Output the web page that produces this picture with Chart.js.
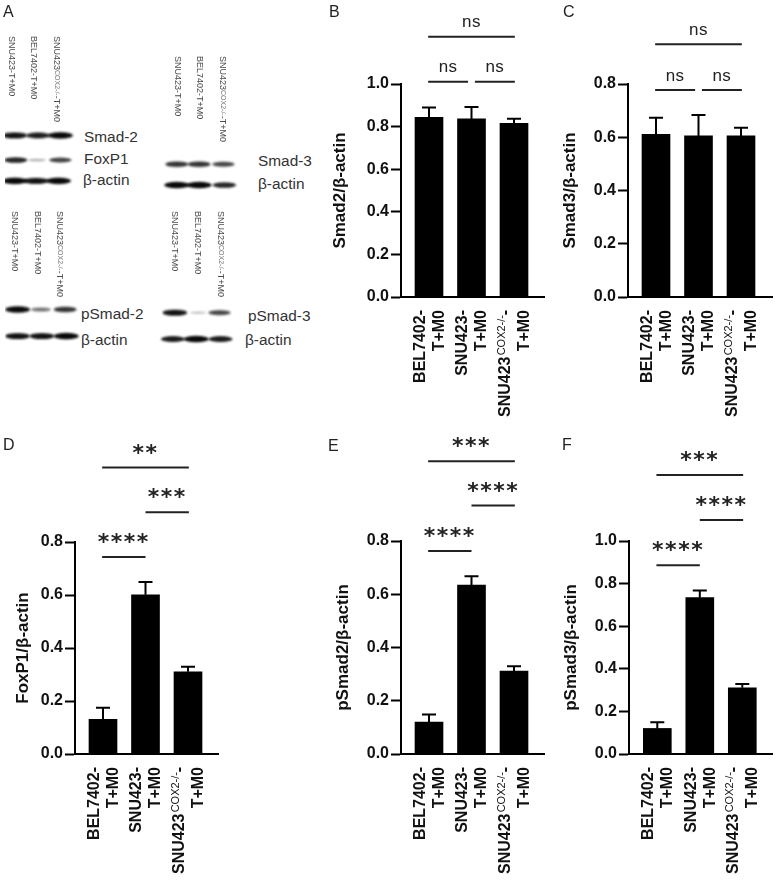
<!DOCTYPE html>
<html>
<head>
<meta charset="utf-8">
<title>Western blots and densitometry</title>
<script src="https://cdn.jsdelivr.net/npm/chart.js@4"></script>
<style>
    html, body { margin: 0; padding: 0; background: #fff; }
    #page { position: relative; width: 780px; height: 881px; overflow: hidden; font-family: "Liberation Sans", Arial, sans-serif; color: #222; }
    #page canvas { position: absolute; }
    .letter { position: absolute; font-size: 16px; line-height: 16px; }
    .blotName { position: absolute; font-size: 15.4px; line-height: 18px; color: #333; transform: translateY(-50%); white-space: nowrap; }
    .lane { position: absolute; writing-mode: vertical-rl; font-size: 9px; line-height: 10px; color: #4a4a4a; white-space: nowrap; transform: translateX(-50%); }
    .lane span { font-size: 7px; color: #777; }
</style>
</head>
<body>
<div id="page"></div>
<script>
// bar values, whisker tops and y ticks
var categories = ['BEL7402-', 'SNU423-', 'SNU423'];
var smad2Means = [0.844, 0.836, 0.815];
var smad2Tops = [0.89, 0.892, 0.837];
var smad3Means = [0.611, 0.605, 0.605];
var smad3Tops = [0.673, 0.684, 0.636];
var foxp1Means = [0.131, 0.601, 0.31];
var foxp1Tops = [0.175, 0.649, 0.329];
var psmad2Means = [0.12, 0.634, 0.311];
var psmad2Tops = [0.148, 0.668, 0.33];
var psmad3Means = [0.12, 0.734, 0.311];
var psmad3Tops = [0.149, 0.768, 0.329];
var ticksTo1 = [0, 0.2, 0.4, 0.6, 0.8, 1.0];
var ticksTo08 = [0, 0.2, 0.4, 0.6, 0.8];

// significance brackets: first bar, last bar, height on the y scale, text
var smad2Marks = [[-0.02, 2.02, 1.222, 'ns'], [-0.02, 0.92, 1.011, 'ns'], [1.08, 2.02, 1.011, 'ns']];
var smad3Marks = [[-0.02, 2.02, 0.949, 'ns'], [-0.02, 0.92, 0.777, 'ns'], [1.08, 2.02, 0.777, 'ns']];
var foxp1Marks = [[-0.02, 2.02, 1.081, '**'], [1, 2.02, 0.912, '***'], [-0.02, 1, 0.743, '****']];
var psmad2Marks = [[-0.02, 2.02, 1.10, '***'], [1, 2.02, 0.933, '****'], [-0.02, 1, 0.762, '****']];
var psmad3Marks = [[-0.02, 2.02, 1.31, '***'], [1, 2.02, 1.099, '****'], [-0.02, 1, 0.886, '****']];

// band strength per lane, 0 to 1
var smad2Bands = [0.95, 0.9, 1];
var foxp1Bands = [0.85, 0.15, 0.7];
var actinBands1 = [1, 0.95, 1];
var smad3Bands = [0.8, 0.8, 0.7];
var actinBands2 = [1, 1, 0.85];
var psmad2Bands = [1, 0.45, 0.8];
var actinBands3 = [0.95, 0.95, 1];
var psmad3Bands = [0.95, 0.08, 0.7];
var actinBands4 = [0.9, 1, 0.9];

var page = document.getElementById('page');
var boldFont = 'bold 16px "Liberation Sans", Arial, sans-serif';

function addCanvas(left, top, width, height) {
    var canvas = document.createElement('canvas');
    canvas.width = width;
    canvas.height = height;
    canvas.style.left = left + 'px';
    canvas.style.top = top + 'px';
    page.appendChild(canvas);
    return canvas;
}

function addText(cls, html, left, top) {
    var el = document.createElement('div');
    el.className = cls;
    el.innerHTML = html;
    el.style.left = left + 'px';
    el.style.top = top + 'px';
    page.appendChild(el);
}

// whiskers, brackets and the rotated x labels
var annotations = {
    id: 'annotations',
    afterDraw: function (chart, args, opts) {
        var ctx = chart.ctx;
        var x = chart.scales.x;
        var y = chart.scales.y;
        ctx.save();

        ctx.strokeStyle = '#000';
        ctx.lineWidth = 2;
        opts.tops.forEach(function (top, i) {
            var px = x.getPixelForValue(i);
            var base = y.getPixelForValue(opts.means[i]);
            var cap = y.getPixelForValue(top);
            ctx.beginPath();
            ctx.moveTo(px, base);
            ctx.lineTo(px, cap);
            ctx.moveTo(px - 7, cap);
            ctx.lineTo(px + 7, cap);
            ctx.stroke();
        });

        opts.marks.forEach(function (mark) {
            var x1 = x.getPixelForValue(mark[0]);
            var x2 = x.getPixelForValue(mark[1]);
            var yy = y.getPixelForValue(mark[2]);
            ctx.strokeStyle = '#222';
            ctx.beginPath();
            ctx.moveTo(x1, yy);
            ctx.lineTo(x2, yy);
            ctx.stroke();
            ctx.fillStyle = '#222';
            ctx.textAlign = 'center';
            ctx.textBaseline = 'alphabetic';
            if (mark[3] === 'ns') {
                ctx.font = '17px "Liberation Sans", Arial, sans-serif';
                ctx.letterSpacing = '0.5px';
                ctx.fillText(mark[3], (x1 + x2) / 2, yy - 9.5);
            } else {
                ctx.font = 'bold 22px "DejaVu Sans", sans-serif';
                ctx.letterSpacing = '1.5px';
                ctx.fillText(mark[3], (x1 + x2) / 2, yy - 8);
            }
            ctx.letterSpacing = '0px';
        });

        // rotated labels end just under the x axis
        var labelTop = y.bottom + 13;
        ctx.fillStyle = '#111';
        ctx.textBaseline = 'alphabetic';
        ctx.textAlign = 'right';
        categories.forEach(function (name, i) {
            var c = x.getPixelForValue(i);
            drawUp(ctx, 'T+M0', c + 14.7, labelTop, boldFont);
            if (i < 2) {
                drawUp(ctx, name, c - 4.3, labelTop, boldFont);
            } else {
                drawUp(ctx, '-', c - 4.3, labelTop, boldFont);
                drawUp(ctx, 'COX2-/-', c - 9.5, labelTop + 5, '11px "Liberation Sans", Arial, sans-serif');
                drawUp(ctx, name, c - 4.3, labelTop + 46.5, boldFont);
            }
        });
        ctx.restore();
    }
};

function drawUp(ctx, text, x, y, font) {
    ctx.save();
    ctx.translate(x, y);
    ctx.rotate(-Math.PI / 2);
    ctx.font = font;
    ctx.fillText(text, 0, 0);
    ctx.restore();
}

// one bar panel; layout numbers are page pixels
function barPanel(p) {
    var spacing = 42.5;
    var left = p.titleX - 10;
    var canvasTop = p.top;
    var width = p.axisEnd - left + 4;
    var height = p.bottom - canvasTop;
    var canvas = addCanvas(left, canvasTop, width, height);
    new Chart(canvas.getContext('2d'), {
        type: 'bar',
        data: {
            labels: categories,
            datasets: [{
                data: p.means.map(function (v, i) { return { x: i, y: v }; }),
                backgroundColor: '#000',
                barThickness: 28
            }]
        },
        options: {
            responsive: false,
            animation: false,
            layout: { padding: { top: p.yTop - canvasTop, right: width - (p.axisEnd - left), left: 0, bottom: 0 } },
            plugins: {
                legend: { display: false },
                tooltip: { enabled: false },
                annotations: { means: p.means, tops: p.tops, marks: p.marks }
            },
            scales: {
                x: {
                    type: 'linear',
                    offset: false,
                    min: -(p.firstBar - p.axisX) / spacing,
                    max: (p.axisEnd - p.firstBar) / spacing,
                    ticks: { display: false },
                    grid: { display: false },
                    border: { display: true, color: '#000', width: 2 },
                    afterFit: function (scale) { scale.height = p.bottom - p.yZero; }
                },
                y: {
                    min: 0,
                    max: p.yTicks[p.yTicks.length - 1],
                    afterBuildTicks: function (scale) {
                        scale.ticks = p.yTicks.map(function (v) { return { value: v }; });
                    },
                    afterFit: function (scale) { scale.width = p.axisX - left; },
                    ticks: {
                        color: '#111',
                        padding: 2,
                        font: { family: '"Liberation Sans", Arial, sans-serif', size: 16, weight: 'bold' },
                        callback: function (v) { return v.toFixed(1); }
                    },
                    grid: { drawOnChartArea: false, drawTicks: true, tickLength: 10, tickColor: '#000', tickWidth: 2 },
                    border: { display: true, color: '#000', width: 2 },
                    title: {
                        display: true,
                        text: p.title,
                        color: '#111',
                        padding: 0,
                        font: { family: '"Liberation Sans", Arial, sans-serif', size: 17, weight: 'bold' }
                    }
                }
            }
        },
        plugins: [annotations]
    });
}

barPanel({ title: 'Smad2/β-actin', means: smad2Means, tops: smad2Tops, marks: smad2Marks, yTicks: ticksTo1,
    titleX: 340, axisX: 401, axisEnd: 544, firstBar: 429, top: 0, yTop: 84, yZero: 297, bottom: 430 });
barPanel({ title: 'Smad3/β-actin', means: smad3Means, tops: smad3Tops, marks: smad3Marks, yTicks: ticksTo08,
    titleX: 570, axisX: 628, axisEnd: 772, firstBar: 656, top: 0, yTop: 84, yZero: 297, bottom: 430 });
barPanel({ title: 'FoxP1/β-actin', means: foxp1Means, tops: foxp1Tops, marks: foxp1Marks, yTicks: ticksTo08,
    titleX: 23, axisX: 75, axisEnd: 218, firstBar: 103, top: 430, yTop: 542, yZero: 754, bottom: 881 });
barPanel({ title: 'pSmad2/β-actin', means: psmad2Means, tops: psmad2Tops, marks: psmad2Marks, yTicks: ticksTo08,
    titleX: 343, axisX: 401, axisEnd: 544, firstBar: 429, top: 430, yTop: 541, yZero: 754, bottom: 881 });
barPanel({ title: 'pSmad3/β-actin', means: psmad3Means, tops: psmad3Tops, marks: psmad3Marks, yTicks: ticksTo1,
    titleX: 571, axisX: 629, axisEnd: 772, firstBar: 657.3, top: 430, yTop: 541, yZero: 754, bottom: 881 });

// panel A: blurred bands on a pixel-sized scatter chart
function bandSprite(strength) {
    var sprite = document.createElement('canvas');
    sprite.width = 30;
    sprite.height = 16;
    var c = sprite.getContext('2d');
    c.filter = 'blur(1.1px)';
    c.fillStyle = 'rgba(8,8,8,' + (0.2 + 0.8 * strength) + ')';
    c.beginPath();
    c.ellipse(15, 8, 8 + 4.5 * strength, 1 + 2.2 * strength, 0, 0, Math.PI * 2);
    c.fill();
    return sprite;
}

var blotRows = [
    { name: 'Smad-2', nameX: 84, nameY: 137, y: 133.5, x: [10, 34, 57], bands: smad2Bands },
    { name: 'FoxP1', nameX: 84, nameY: 159, y: 158.7, x: [11, 33, 57], bands: foxp1Bands },
    { name: 'β-actin', nameX: 83, nameY: 180, y: 180, x: [10, 32, 55], bands: actinBands1 },
    { name: 'Smad-3', nameX: 258, nameY: 161, y: 163, x: [177, 200, 225], bands: smad3Bands },
    { name: 'β-actin', nameX: 258, nameY: 184, y: 184.3, x: [177, 200, 226], bands: actinBands2 },
    { name: 'pSmad-2', nameX: 81, nameY: 314, y: 311.7, x: [13, 37, 62], bands: psmad2Bands },
    { name: 'β-actin', nameX: 81, nameY: 340, y: 339, x: [13, 38, 63], bands: actinBands3 },
    { name: 'pSmad-3', nameX: 248, nameY: 316, y: 315, x: [175, 199, 221], bands: psmad3Bands },
    { name: 'β-actin', nameX: 245, nameY: 340, y: 342, x: [173, 197, 222], bands: actinBands4 }
];

var blotPoints = [];
var blotSprites = [];
blotRows.forEach(function (row) {
    addText('blotName', row.name, row.nameX, row.nameY);
    row.bands.forEach(function (strength, i) {
        blotPoints.push({ x: row.x[i], y: row.y });
        blotSprites.push(bandSprite(strength));
    });
});

new Chart(addCanvas(0, 0, 340, 430).getContext('2d'), {
    type: 'scatter',
    data: { datasets: [{ data: blotPoints, pointStyle: blotSprites }] },
    options: {
        responsive: false,
        animation: false,
        plugins: { legend: { display: false }, tooltip: { enabled: false } },
        scales: {
            x: { display: false, min: 0, max: 340 },
            y: { display: false, min: 0, max: 430, reverse: true }
        }
    }
});

var laneSets = [
    { top: 36, x: [12, 34, 57] },
    { top: 56, x: [178, 200, 223] },
    { top: 211, x: [15, 38, 60] },
    { top: 211, x: [175, 198, 221] }
];
laneSets.forEach(function (set) {
    addText('lane', 'SNU423-T+M0', set.x[0], set.top);
    addText('lane', 'BEL7402-T+M0', set.x[1], set.top);
    addText('lane', 'SNU423<span>COX2-/-</span>-T+M0', set.x[2], set.top);
});

addText('letter', 'A', 3, 4);
addText('letter', 'B', 329, 4);
addText('letter', 'C', 563, 4);
addText('letter', 'D', 3, 437);
addText('letter', 'E', 328, 438);
addText('letter', 'F', 562, 437);
</script>
</body>
</html>
